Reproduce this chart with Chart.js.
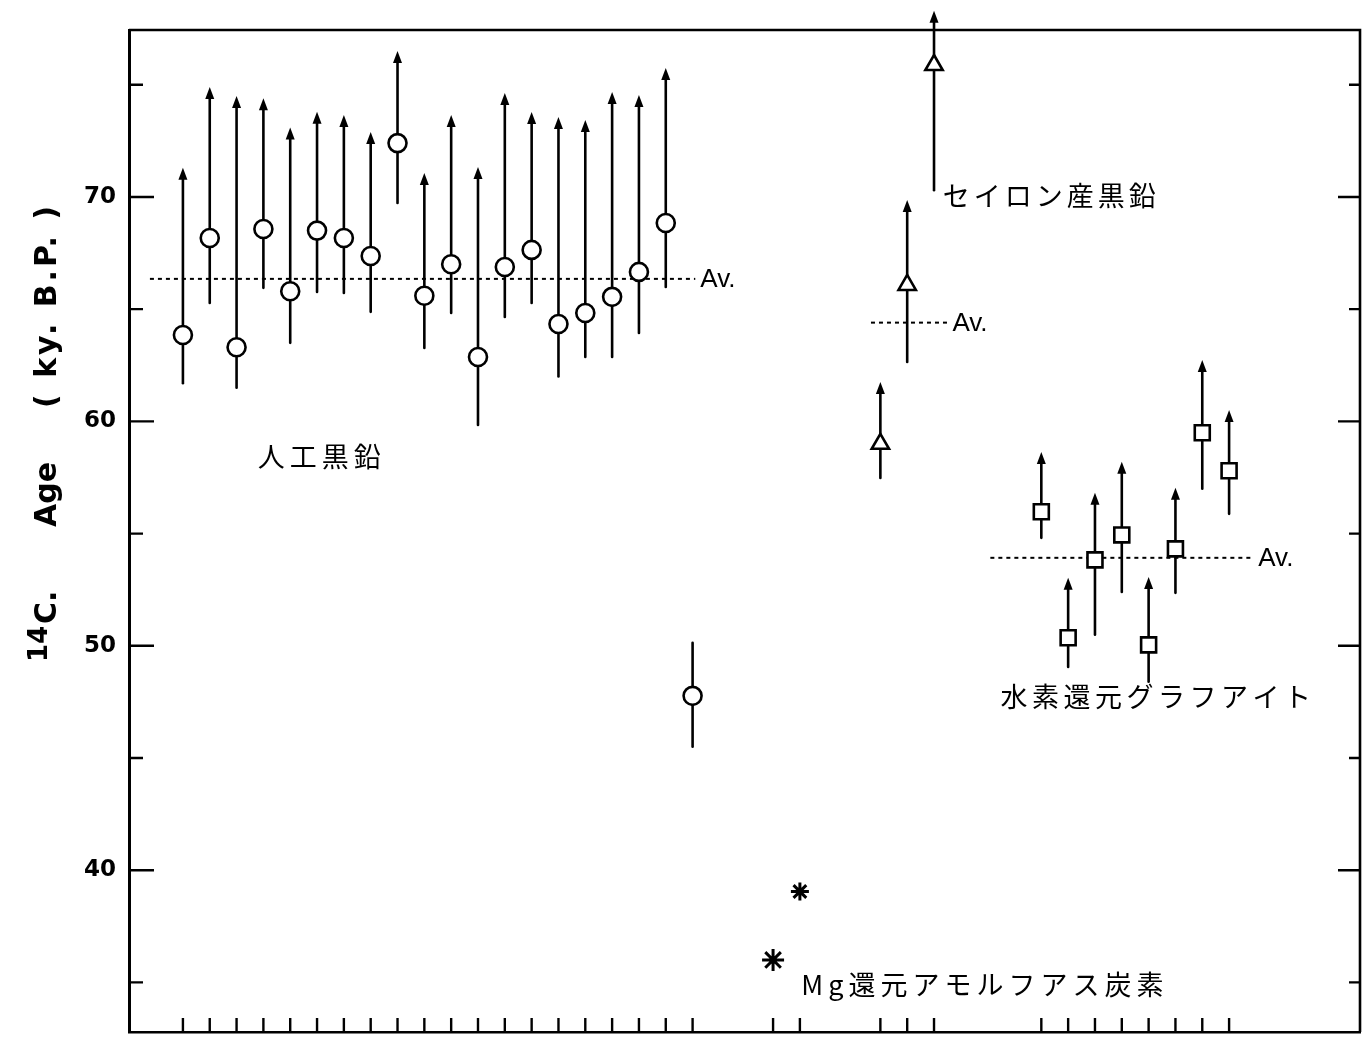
<!DOCTYPE html>
<html>
<head>
<meta charset="utf-8">
<script src="https://cdn.jsdelivr.net/npm/chart.js@4.4.1/dist/chart.umd.min.js"></script>
<style>
  html, body { margin: 0; padding: 0; background: #fff; overflow: hidden; }
  canvas { display: block; }
</style>
</head>
<body>
<canvas id="c" width="1370" height="1041" style="width:1370px;height:1041px"></canvas>
<script>
// sample positions along the bottom axis (one tick per sample)
const xTicks = [0,1,2,3,4,5,6,7,8,9,10,11,12,13,14,15,16,17,18,19, 22,23, 26,27,28, 32,33,34,35,36,37,38,39];
const yTicks = [35, 40, 45, 50, 55, 60, 65, 70, 75];
const yLabels = [40, 50, 60, 70];

// 人工黒鉛 (artificial graphite)
const artIdx  = [0,1,2,3,4,5,6,7,8,9,10,11,12,13,14,15,16,17,18,19];
const artAge  = [63.85,68.17,63.3,68.57,65.8,68.5,68.17,67.37,72.4,65.6,67.0,62.87,66.88,67.64,64.34,64.83,65.55,66.66,68.84,47.77];
const artLow  = [61.7,65.28,61.5,65.95,63.5,65.77,65.72,64.88,69.73,63.27,64.83,59.84,64.65,65.28,62.0,62.87,62.87,63.94,65.99,45.5];
const artHigh = [71.3,74.9,74.5,74.4,73.1,73.8,73.65,72.9,76.5,71.07,73.65,71.34,74.63,73.79,73.56,73.43,74.68,74.54,75.75,50.13];
const artArrow = [1,1,1,1,1,1,1,1,1,1,1,1,1,1,1,1,1,1,1,0];
const artAv = 66.35;
const artAvRange = [-1.23, 19.1];

// Mg還元アモルフアス炭素
const mgIdx = [22, 23];
const mgAge = [36.0, 39.05];

// セイロン産黒鉛
const cyIdx  = [26, 27, 28];
const cyAge  = [59.0, 66.08, 75.88];
const cyLow  = [57.48, 62.65, 70.3];
const cyHigh = [61.76, 69.87, 78.3];
const cyArrow = [1, 1, 1];
const cyAv = 64.4;
const cyAvRange = [25.65, 28.5];

// 水素還元グラフアイト
const hIdx  = [32,33,34,35,36,37,38,39];
const hAge  = [55.97,50.36,53.83,54.94,50.04,54.32,59.49,57.8];
const hLow  = [54.81,49.06,50.49,52.4,48.4,52.36,57.0,55.88];
const hHigh = [58.64,53.03,56.82,58.2,53.07,57.04,62.74,60.51];
const hArrow = [1,1,1,1,1,1,1,1];
const hAv = 53.92;
const hAvRange = [30.1, 39.9];

const bars = [
  { idx: artIdx, low: artLow, high: artHigh, arrow: artArrow },
  { idx: cyIdx, low: cyLow, high: cyHigh, arrow: cyArrow },
  { idx: hIdx, low: hLow, high: hHigh, arrow: hArrow }
];
const avLines = [
  { y: artAv, range: artAvRange },
  { y: cyAv, range: cyAvRange },
  { y: hAv, range: hAvRange }
];
const notes = [
  { text: '人工黒鉛', x: 2.79, y: 58.41, spacing: 5 },
  { text: 'セイロン産黒鉛', x: 28.33, y: 70.04, spacing: 4 },
  { text: '水素還元グラフアイト', x: 30.48, y: 47.72, spacing: 4.5 },
  { text: 'Mg還元アモルフアス炭素', x: 23.05, y: 34.88, spacing: 5 }
];

const pts = (xs, ys) => xs.map((v, i) => ({ x: v, y: ys[i] }));
const avData = (a) => [{ x: a.range[0], y: a.y }, { x: a.range[1], y: a.y }];

// drop the hidden label padding chart.js reserves around the axes
function noPad(s) {
  s.paddingTop = 0; s.paddingBottom = 0; s.paddingLeft = 0; s.paddingRight = 0;
}

const decor = {
  id: 'decor',
  beforeDatasetsDraw(chart) {
    const { ctx, scales: { x, y } } = chart;
    ctx.save();
    ctx.strokeStyle = '#000';
    ctx.fillStyle = '#000';
    ctx.lineWidth = 2.6;
    ctx.lineCap = 'round';
    bars.forEach(g => {
      g.idx.forEach((xi, i) => {
        const px = x.getPixelForValue(xi);
        const lo = y.getPixelForValue(g.low[i]);
        const hi = y.getPixelForValue(g.high[i]);
        ctx.beginPath();
        ctx.moveTo(px, lo);
        ctx.lineTo(px, g.arrow[i] ? hi + 8 : hi);
        ctx.stroke();
        if (g.arrow[i]) {
          ctx.beginPath();
          ctx.moveTo(px, hi);
          ctx.lineTo(px - 4.5, hi + 12);
          ctx.lineTo(px + 4.5, hi + 12);
          ctx.closePath();
          ctx.fill();
        }
      });
    });
    ctx.restore();
  },
  afterDraw(chart) {
    const { ctx, chartArea: a, scales: { x, y } } = chart;
    ctx.save();
    ctx.strokeStyle = '#000';
    ctx.fillStyle = '#000';
    // top and right frame
    ctx.lineWidth = 2.6;
    ctx.beginPath();
    ctx.moveTo(a.left, a.top);
    ctx.lineTo(a.right, a.top);
    ctx.lineTo(a.right, a.bottom);
    ctx.stroke();
    // inward ticks
    ctx.lineWidth = 2.4;
    yTicks.forEach(v => {
      const py = y.getPixelForValue(v);
      const major = yLabels.includes(v);
      ctx.beginPath();
      ctx.moveTo(a.left, py); ctx.lineTo(a.left + (major ? 25 : 14), py);
      ctx.moveTo(a.right, py); ctx.lineTo(a.right - (major ? 22 : 11), py);
      ctx.stroke();
    });
    xTicks.forEach(v => {
      const px = x.getPixelForValue(v);
      ctx.beginPath();
      ctx.moveTo(px, a.bottom); ctx.lineTo(px, a.bottom - 14);
      ctx.stroke();
    });
    // Av. labels
    ctx.font = '26px "Liberation Sans"';
    ctx.textBaseline = 'middle';
    ctx.textAlign = 'left';
    avLines.forEach(l => {
      ctx.fillText('Av.', x.getPixelForValue(l.range[1]) + 5, y.getPixelForValue(l.y) + 1);
    });
    // group notes
    ctx.font = '27px "Noto Sans CJK JP"';
    notes.forEach(n => {
      ctx.letterSpacing = n.spacing + 'px';
      ctx.fillText(n.text, x.getPixelForValue(n.x), y.getPixelForValue(n.y));
    });
    ctx.letterSpacing = '0px';
    // y axis title, rotated
    ctx.translate(48, 0);
    ctx.rotate(-Math.PI / 2);
    ctx.font = 'bold 26px "DejaVu Sans"';
    ctx.fillText('14', -662, -8);
    ctx.font = 'bold 30px "DejaVu Sans"';
    ctx.fillText('C.', -624, 0);
    ctx.fillText('Age', -527, 0);
    ctx.letterSpacing = '3px';
    ctx.fillText('( ky. B.P. )', -408, 0);
    ctx.restore();
  }
};

new Chart(document.getElementById('c'), {
  type: 'scatter',
  data: {
    datasets: [
      { data: pts(artIdx, artAge), pointStyle: 'circle', pointRadius: 9, pointBorderWidth: 2.6,
        pointBackgroundColor: '#fff', pointBorderColor: '#000' },
      { data: pts(mgIdx, mgAge), pointStyle: 'star', pointRadius: [11, 9], pointBorderWidth: 3,
        pointBorderColor: '#000' },
      { data: pts(cyIdx, cyAge), pointStyle: 'triangle', pointRadius: 10, pointBorderWidth: 2.6,
        pointBackgroundColor: '#fff', pointBorderColor: '#000' },
      { data: pts(hIdx, hAge), pointStyle: 'rect', pointRadius: 10.6, pointBorderWidth: 2.6,
        pointBackgroundColor: '#fff', pointBorderColor: '#000' },
      ...avLines.map(l => ({ data: avData(l), showLine: true, pointRadius: 0, borderColor: '#000',
        borderWidth: 2, borderDash: [4, 4] }))
    ]
  },
  options: {
    responsive: false,
    animation: false,
    layout: { autoPadding: false, padding: { left: 0, right: 10, top: 30, bottom: 9 } },
    plugins: { legend: { display: false }, tooltip: { enabled: false } },
    scales: {
      x: {
        type: 'linear', min: -2.01, max: 43.88,
        grid: { display: false, drawTicks: false },
        ticks: { display: false },
        border: { display: true, width: 2.6, color: '#000' },
        afterFit(s) { s.height = 0; noPad(s); }
      },
      y: {
        min: 32.79, max: 77.44,
        grid: { display: false, drawTicks: false },
        border: { display: true, width: 3, color: '#000' },
        afterBuildTicks(s) { s.ticks = yTicks.map(v => ({ value: v })); },
        ticks: {
          padding: 13, color: '#000',
          font: { family: 'DejaVu Sans', size: 23, weight: 'bold' },
          callback: v => yLabels.includes(v) ? String(v) : ''
        },
        afterFit(s) { s.width = 129; noPad(s); }
      }
    }
  },
  plugins: [decor]
});
</script>
</body>
</html>
